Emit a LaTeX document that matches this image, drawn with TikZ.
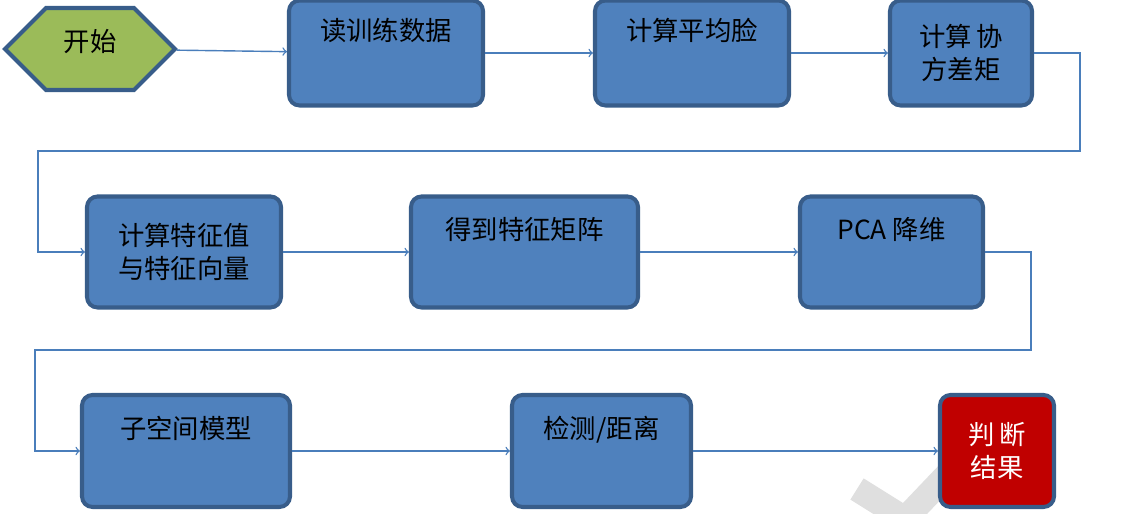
\documentclass[tikz,border=0pt]{standalone}
\usepackage{fontspec}
\setmainfont{Liberation Serif}
\newfontfamily\cjk{Noto Sans CJK SC}
\usetikzlibrary{shapes.symbols}
\definecolor{boxblue}{HTML}{4F81BD}
\definecolor{boxedge}{HTML}{385D8A}
\definecolor{flowblue}{HTML}{4A7EBB}
\definecolor{hexgreen}{HTML}{9BBB59}
\definecolor{resred}{HTML}{C00000}
\tikzset{
  stepbox/.style={draw=boxedge, line width=2.3pt, fill=boxblue, rounded corners=6pt,
    minimum height=2.1cm, align=center, font=\fontsize{15}{19}\selectfont\cjk},
  toptext/.style={text depth=0.95cm},
  flow/.style={draw=flowblue, line width=0.8pt, -to}
}
\begin{document}
\begin{tikzpicture}
      \useasboundingbox (0,0) rectangle (22.62,10.28);
      %watermark
      \begin{scope}
      \clip (0,0) rectangle (22.62,10.28);
      \draw[gray!25, line width=0.5cm] (17.14,0.5) -- (18.1,-0.1) -- (19.1,0.95);
      \end{scope}

      %row 1
      \node[signal, signal to=east and west, draw=boxedge, line width=2.3pt, fill=hexgreen,
        minimum width=3.4cm, minimum height=1.64cm, font=\fontsize{15}{19}\selectfont\cjk,
        text depth=0.35cm] (start) at (1.80,9.30) {开始};
      \node[stepbox, toptext, minimum width=3.88cm] (read) at (7.72,9.22) {读训练数据};
      \node[stepbox, toptext, minimum width=3.88cm] (mean) at (13.84,9.22) {计算平均脸};
      \node[stepbox, minimum width=2.84cm] (cov) at (19.22,9.22) {计算\,协\\方差矩};

      %row 2
      \node[stepbox, minimum width=3.88cm, minimum height=2.22cm] (eig) at (3.68,5.24) {计算特征值\\与特征向量};
      \node[stepbox, toptext, minimum width=4.54cm, minimum height=2.22cm] (mat) at (10.49,5.24) {得到特征矩阵};
      \node[stepbox, toptext, minimum width=3.66cm, minimum height=2.22cm] (pca) at (17.83,5.24) {PCA 降维};

      %row 3
      \node[stepbox, toptext, minimum width=4.16cm, minimum height=2.24cm] (sub) at (3.72,1.26) {子空间模型};
      \node[stepbox, toptext, minimum width=3.58cm, minimum height=2.24cm] (det) at (12.03,1.26) {检测/距离};
      \node[stepbox, fill=resred, text=white, minimum width=2.28cm, minimum height=2.24cm] (res) at (19.94,1.26) {判\,断\\结果};

      %connectors
      \draw[flow] (start) -- (read);
      \draw[flow] (read) -- (mean);
      \draw[flow] (mean) -- (cov);
      \draw[flow] (cov.east) -- (21.6,9.22) |- (0.76,7.26) |- (eig.west);
      \draw[flow] (eig) -- (mat);
      \draw[flow] (mat) -- (pca);
      \draw[flow] (pca.east) -- (20.62,5.24) |- (0.70,3.28) |- (sub.west);
      \draw[flow] (sub) -- (det);
      \draw[flow] (det) -- (res);
\end{tikzpicture}
\end{document}
